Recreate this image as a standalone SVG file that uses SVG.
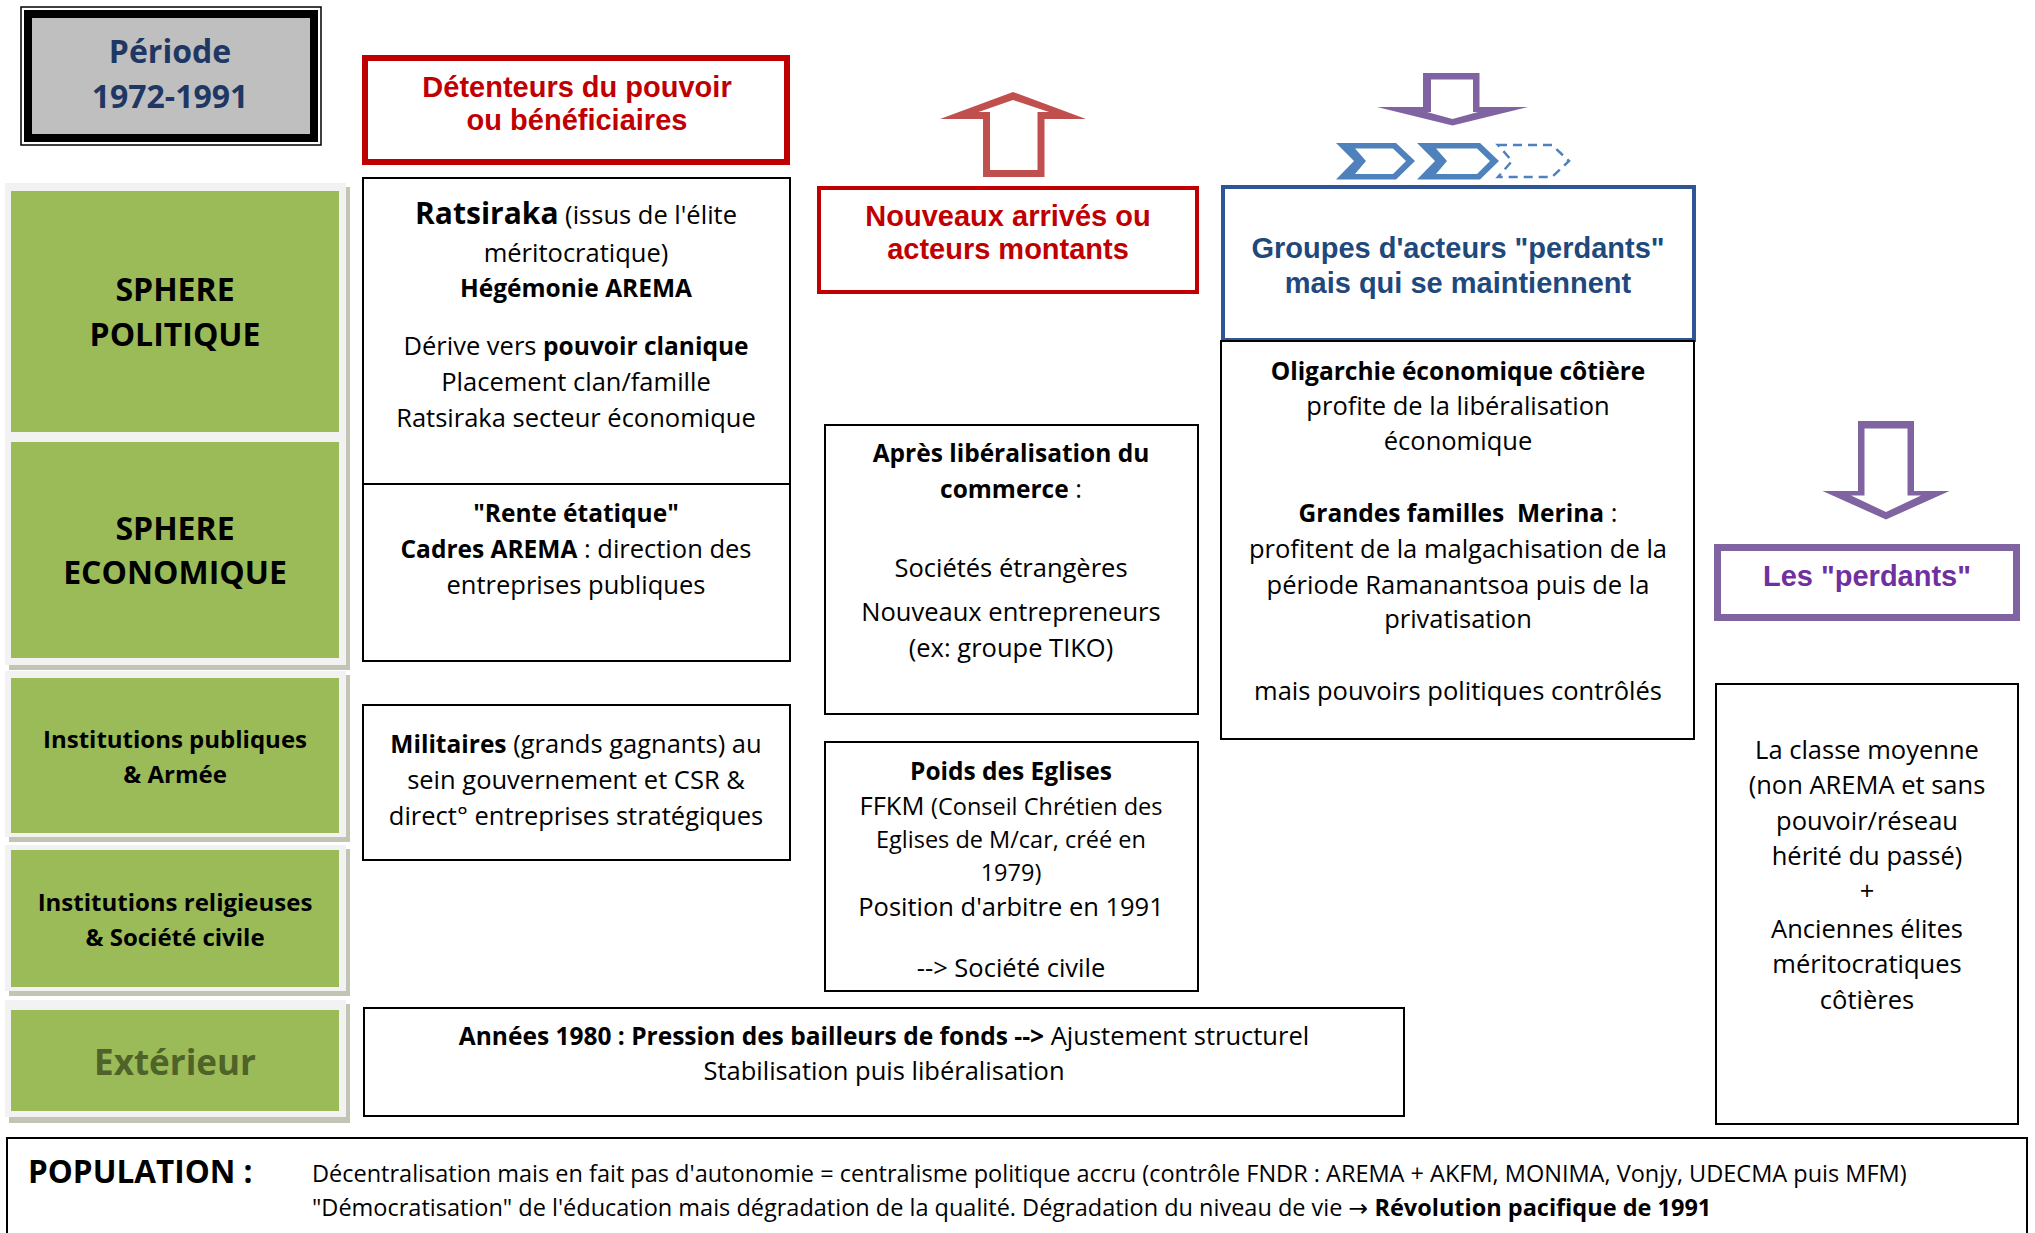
<svg xmlns="http://www.w3.org/2000/svg" width="2035" height="1233" viewBox="0 0 2035 1233">
<style>
text{font-family:"Open Sans","DejaVu Sans",sans-serif;}
.t{font-size:25.5px;fill:#000;text-anchor:middle}
.s{font-size:23.5px}
.b{font-weight:bold;font-size:24.5px}
.h{font-family:"Liberation Sans",Arial,sans-serif;font-weight:bold;font-size:29px;text-anchor:middle}
.box{fill:#fff;stroke:#000;stroke-width:2}
.panel{fill:#f2f2f2}
.shadow{fill:#c2c5b4}
.green{fill:#9bbb59}
.lbl{font-weight:bold;text-anchor:middle;fill:#000}
.pop{font-size:23.5px;fill:#000}
</style>
<rect width="2035" height="1233" fill="#fff"/>

<g id="periode">
  <rect x="21" y="7" width="300" height="138" fill="#fff" stroke="#000" stroke-width="1.5"/>
  <rect x="28" y="14" width="286" height="124" fill="#bfbfbf" stroke="#000" stroke-width="8"/>
  <text x="170" y="63" font-size="32" font-weight="bold" fill="#1f3763" text-anchor="middle">Période</text>
  <text x="170" y="108" font-size="32" font-weight="bold" fill="#1f3763" text-anchor="middle">1972-1991</text>
</g>

<g id="left-column">
  <rect class="shadow" x="9" y="187" width="341" height="483"/>
  <rect class="panel" x="5" y="183" width="341" height="482"/>
  <rect class="shadow" x="9" y="675" width="341" height="167"/>
  <rect class="panel" x="5" y="671" width="341" height="166"/>
  <rect class="shadow" x="9" y="849" width="341" height="147"/>
  <rect class="panel" x="5" y="845" width="341" height="146"/>
  <rect class="shadow" x="9" y="1004" width="341" height="119"/>
  <rect class="panel" x="5" y="1000" width="341" height="117"/>
</g>

<g id="sphere-politique">
  <rect class="green" x="11" y="191" width="328" height="241"/>
  <text class="lbl" x="175" y="301" font-size="32">SPHERE</text>
  <text class="lbl" x="175" y="346" font-size="32">POLITIQUE</text>
</g>
<g id="sphere-economique">
  <rect class="green" x="11" y="442" width="328" height="216"/>
  <text class="lbl" x="175" y="540" font-size="32">SPHERE</text>
  <text class="lbl" x="175" y="584" font-size="32">ECONOMIQUE</text>
</g>
<g id="institutions-publiques">
  <rect class="green" x="11" y="678" width="328" height="155"/>
  <text class="lbl" x="175" y="748" font-size="24">Institutions publiques</text>
  <text class="lbl" x="175" y="783" font-size="24">&amp; Armée</text>
</g>
<g id="institutions-religieuses">
  <rect class="green" x="11" y="850" width="328" height="137"/>
  <text class="lbl" x="175" y="911" font-size="24">Institutions religieuses</text>
  <text class="lbl" x="175" y="946" font-size="24">&amp; Société civile</text>
</g>
<g id="exterieur">
  <rect class="green" x="11" y="1010" width="328" height="101"/>
  <text x="175" y="1075" font-size="35" font-weight="bold" fill="#4f6228" text-anchor="middle">Extérieur</text>
</g>

<g id="detenteurs">
  <rect x="365" y="58" width="422" height="104" fill="#fff" stroke="#c00000" stroke-width="6"/>
  <text class="h" x="577" y="97" fill="#c00000">Détenteurs du pouvoir</text>
  <text class="h" x="577" y="130" fill="#c00000">ou bénéficiaires</text>
</g>

<g id="ratsiraka">
  <rect class="box" x="363" y="178" width="427" height="306"/>
  <text class="t" x="576" y="224"><tspan class="b" style="font-size:30px">Ratsiraka</tspan> (issus de l'élite</text>
  <text class="t" x="576" y="262">méritocratique)</text>
  <text class="t b" x="576" y="297">Hégémonie AREMA</text>
  <text class="t" x="576" y="355">Dérive vers <tspan class="b">pouvoir clanique</tspan></text>
  <text class="t" x="576" y="391">Placement clan/famille</text>
  <text class="t" x="576" y="427">Ratsiraka secteur économique</text>
</g>

<g id="rente">
  <rect class="box" x="363" y="484" width="427" height="177"/>
  <text class="t b" x="576" y="522">"Rente étatique"</text>
  <text class="t" x="576" y="558"><tspan class="b">Cadres AREMA</tspan> : direction des</text>
  <text class="t" x="576" y="594">entreprises publiques</text>
</g>

<g id="militaires">
  <rect class="box" x="363" y="705" width="427" height="155"/>
  <text class="t" x="576" y="753"><tspan class="b">Militaires</tspan> (grands gagnants) au</text>
  <text class="t" x="576" y="789">sein gouvernement et CSR &amp;</text>
  <text class="t" x="576" y="825">direct° entreprises stratégiques</text>
</g>

<g id="fleche-montante">
  <path d="M1013,92 L1086,119 L1044.5,119 L1044.5,177 L983,177 L983,119 L940,119 Z M1013,100 L978.5,112 L990,112 L990,170 L1037.5,170 L1037.5,112 L1049,112 Z" fill="#c0504d" fill-rule="evenodd"/>
</g>

<g id="nouveaux">
  <rect x="819" y="188" width="378" height="104" fill="#fff" stroke="#c00000" stroke-width="4"/>
  <text class="h" x="1008" y="226" fill="#c00000">Nouveaux arrivés ou</text>
  <text class="h" x="1008" y="259" fill="#c00000">acteurs montants</text>
</g>

<g id="apres-liberalisation">
  <rect class="box" x="825" y="425" width="373" height="289"/>
  <text class="t b" x="1011" y="462">Après libéralisation du</text>
  <text class="t" x="1011" y="498"><tspan class="b">commerce</tspan> :</text>
  <text class="t" x="1011" y="577">Sociétés étrangères</text>
  <text class="t" x="1011" y="621">Nouveaux entrepreneurs</text>
  <text class="t" x="1011" y="657">(ex: groupe TIKO)</text>
</g>

<g id="eglises">
  <rect class="box" x="825" y="742" width="373" height="249"/>
  <text class="t b" x="1011" y="780">Poids des Eglises</text>
  <text class="t" x="1011" y="815">FFKM <tspan class="s">(Conseil Chrétien des</tspan></text>
  <text class="t s" x="1011" y="848">Eglises de M/car, créé en</text>
  <text class="t s" x="1011" y="881">1979)</text>
  <text class="t" x="1011" y="916">Position d'arbitre en 1991</text>
  <text class="t" x="1011" y="977">--&gt; Société civile</text>
</g>

<g id="fleche-descendante">
  <path d="M1423,73 L1479.5,73 L1479.5,107 L1528,107 L1452.5,125.5 L1377,107 L1423,107 Z M1431,79.5 L1431,112 L1427,112 L1452.5,119 L1478,112 L1473,112 L1473,79.5 Z" fill="#8064a2" fill-rule="evenodd"/>
</g>

<g id="chevrons">
  <path d="M1498,145 L1552,145 L1569,161 L1552,177 L1498,177 L1512,161 Z" fill="none" stroke="#4f81bd" stroke-width="2.5" stroke-dasharray="9 6"/>
  <path d="M1417,143 L1480,143 L1499,161 L1480,179.5 L1417,179.5 L1435,161 Z M1436,148.5 L1477,148.5 L1490,161 L1477,174 L1436,174 L1447,161 Z" fill="#4f81bd" fill-rule="evenodd"/>
  <path d="M1336,143 L1396,143 L1415,161 L1396,179.5 L1336,179.5 L1354,161 Z M1355,148.5 L1393,148.5 L1406,161 L1393,174 L1355,174 L1366,161 Z" fill="#4f81bd" fill-rule="evenodd"/>
</g>

<g id="groupes-perdants">
  <rect x="1223" y="187" width="471" height="153" fill="#fff" stroke="#2f5597" stroke-width="4"/>
  <text class="h" x="1458" y="258" fill="#1f497d">Groupes d'acteurs "perdants"</text>
  <text class="h" x="1458" y="293" fill="#1f497d">mais qui se maintiennent</text>
</g>

<g id="oligarchie">
  <rect class="box" x="1221" y="341" width="473" height="398"/>
  <text class="t b" x="1458" y="380">Oligarchie économique côtière</text>
  <text class="t" x="1458" y="415">profite de la libéralisation</text>
  <text class="t" x="1458" y="450">économique</text>
  <text class="t" x="1458" y="522" xml:space="preserve"><tspan class="b">Grandes familles  Merina</tspan> :</text>
  <text class="t" x="1458" y="558">profitent de la malgachisation de la</text>
  <text class="t" x="1458" y="594">période Ramanantsoa puis de la</text>
  <text class="t" x="1458" y="628">privatisation</text>
  <text class="t" x="1458" y="700">mais pouvoirs politiques contrôlés</text>
</g>

<g id="fleche-perdants">
  <path d="M1858,421 L1914,421 L1914,491 L1949.5,491 L1886,519.5 L1822.5,491 L1858,491 Z M1864.5,428.5 L1864.5,495.5 L1851,495.5 L1886,512 L1921,495.5 L1907.5,495.5 L1907.5,428.5 Z" fill="#8064a2" fill-rule="evenodd"/>
</g>

<g id="les-perdants">
  <rect x="1717.5" y="547.5" width="299" height="70" fill="#fff" stroke="#8064a2" stroke-width="7"/>
  <text class="h" x="1867" y="586" font-size="28" fill="#7030a0">Les "perdants"</text>
</g>

<g id="classe-moyenne">
  <rect class="box" x="1716" y="684" width="302" height="440"/>
  <text class="t" x="1867" y="759">La classe moyenne</text>
  <text class="t" x="1867" y="794">(non AREMA et sans</text>
  <text class="t" x="1867" y="830">pouvoir/réseau</text>
  <text class="t" x="1867" y="865">hérité du passé)</text>
  <text class="t" x="1867" y="900">+</text>
  <text class="t" x="1867" y="938">Anciennes élites</text>
  <text class="t" x="1867" y="973">méritocratiques</text>
  <text class="t" x="1867" y="1009">côtières</text>
</g>

<g id="exterieur-texte">
  <rect class="box" x="364" y="1008" width="1040" height="108"/>
  <text class="t" x="884" y="1045"><tspan class="b">Années 1980 : Pression des bailleurs de fonds --&gt;</tspan> Ajustement structurel</text>
  <text class="t" x="884" y="1080">Stabilisation puis libéralisation</text>
</g>

<g id="population">
  <rect class="box" x="7" y="1138" width="2020" height="120"/>
  <text x="28" y="1183" font-size="31.5" font-weight="bold" fill="#000">POPULATION :</text>
  <text class="pop" x="312" y="1182">Décentralisation mais en fait pas d'autonomie = centralisme politique accru (contrôle FNDR : AREMA + AKFM, MONIMA, Vonjy, UDECMA puis MFM)</text>
  <text class="pop" x="312" y="1216">"Démocratisation" de l'éducation mais dégradation de la qualité. Dégradation du niveau de vie → <tspan font-weight="bold">Révolution pacifique de 1991</tspan></text>
</g>

<g id="connecteurs"></g>
</svg>
